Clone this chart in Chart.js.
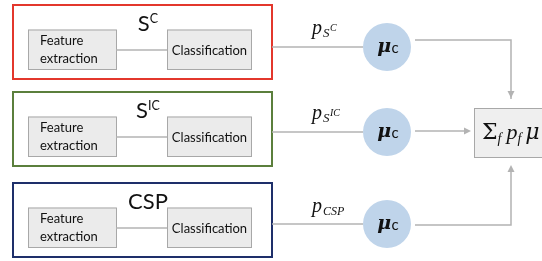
<!DOCTYPE html>
<html>
<head>
<meta charset="utf-8">
<script src="https://cdn.jsdelivr.net/npm/chart.js@4"></script>
<style>
  html, body { margin: 0; padding: 0; background: #ffffff; }
  #wrap { width: 542px; height: 261px; position: relative; }
</style>
</head>
<body>
<div id="wrap"><canvas id="diagram"></canvas></div>
<script>
// --- data: the texts of the diagram ---
const stageNames = ['S', 'S', 'CSP'];
const stageSups = ['C', 'IC', ''];
const moduleNames = [['Feature', 'extraction'], ['Classification']];
const probSubs = ['S', 'S', 'CSP'];
const probSups = ['C', 'IC', ''];
const nodeSymbol = 'μ';
const nodeSub = 'c';
const fusionParts = ['Σ', 'f', 'p', 'f', 'μ'];

// --- layout (diagram units = pixels of the 542x261 picture) ---
const frameX = [13, 272];
const frameTop = [5, 92, 183];
const frameH = 74;
const frameColors = ['#e3372c', '#5b7f3c', '#1e2f6a'];
const featBox = [28, 116];
const clsBox = [167, 251];
const nodeX = 387;
const nodeY = [47, 132, 224];
const nodeR = 24;
const outY = [40, 131, 225];
const fusion = { x0: 474, x1: 548, y0: 108, y1: 157 };
const busX = 511;
const lineGrey = '#b3b3b3';

const SANS = 'Lato, "Open Sans", sans-serif';
const SERIF = '"Liberation Serif", "DejaVu Serif", serif';

// connector polylines, as line datasets through the scales
const connectorSets = [];
frameTop.forEach((top, i) => {
  const ly = top + 45;
  connectorSets.push([{x: featBox[1], y: ly}, {x: clsBox[0], y: ly}]);
  connectorSets.push([{x: frameX[1], y: nodeY[i]}, {x: nodeX - nodeR, y: nodeY[i]}]);
});
connectorSets.push([{x: nodeX + nodeR + 4, y: outY[0]}, {x: busX, y: outY[0]}, {x: busX, y: fusion.y0 - 9}]);
connectorSets.push([{x: nodeX + nodeR + 4, y: outY[1]}, {x: fusion.x0 - 8, y: outY[1]}]);
connectorSets.push([{x: nodeX + nodeR + 4, y: outY[2]}, {x: busX, y: outY[2]}, {x: busX, y: fusion.y1 + 13}]);

function richText(ctx, parts, x, y, align) {
  let w = 0;
  parts.forEach(p => { ctx.font = p.font; w += ctx.measureText(p.t).width + (p.gap || 0); });
  let cx = align === 'center' ? x - w / 2 : x;
  ctx.textAlign = 'left';
  ctx.textBaseline = 'alphabetic';
  parts.forEach(p => {
    ctx.font = p.font;
    ctx.fillText(p.t, cx, y + (p.dy || 0));
    cx += ctx.measureText(p.t).width + (p.gap || 0);
  });
}

function arrowHead(ctx, x, y, dir) {
  // dir: 'down' | 'up' | 'right'
  ctx.beginPath();
  if (dir === 'down') { ctx.moveTo(x, y); ctx.lineTo(x - 3.5, y - 7); ctx.lineTo(x + 3.5, y - 7); }
  if (dir === 'up') { ctx.moveTo(x, y); ctx.lineTo(x - 3.5, y + 7); ctx.lineTo(x + 3.5, y + 7); }
  if (dir === 'right') { ctx.moveTo(x, y); ctx.lineTo(x - 7, y - 3.5); ctx.lineTo(x - 7, y + 3.5); }
  ctx.closePath();
  ctx.fill();
}

const diagramPlugin = {
  id: 'diagram',
  beforeDatasetsDraw(chart) {
    const ctx = chart.ctx;
    const sx = v => chart.scales.x.getPixelForValue(v);
    const sy = v => chart.scales.y.getPixelForValue(v);
    ctx.save();
    frameTop.forEach((top, i) => {
      ctx.lineWidth = 2;
      ctx.strokeStyle = frameColors[i];
      ctx.strokeRect(sx(frameX[0]), sy(top), sx(frameX[1]) - sx(frameX[0]), sy(top + frameH) - sy(top));
      [featBox, clsBox].forEach(b => {
        const y0 = top + 24.5, y1 = top + 64;
        ctx.fillStyle = '#ebebeb';
        ctx.fillRect(sx(b[0]), sy(y0), sx(b[1]) - sx(b[0]), sy(y1) - sy(y0));
        ctx.lineWidth = 1;
        ctx.strokeStyle = '#a8a8a8';
        ctx.strokeRect(sx(b[0]) + 0.5, sy(y0) + 0.5, sx(b[1]) - sx(b[0]), sy(y1) - sy(y0));
      });
    });
    // fusion box
    ctx.fillStyle = '#efefef';
    ctx.fillRect(sx(fusion.x0), sy(fusion.y0), sx(fusion.x1) - sx(fusion.x0), sy(fusion.y1) - sy(fusion.y0));
    ctx.lineWidth = 1;
    ctx.strokeStyle = '#a8a8a8';
    ctx.strokeRect(sx(fusion.x0) + 0.5, sy(fusion.y0) + 0.5, sx(fusion.x1) - sx(fusion.x0), sy(fusion.y1) - sy(fusion.y0));
    ctx.restore();
  },
  afterDatasetsDraw(chart) {
    const ctx = chart.ctx;
    const sx = v => chart.scales.x.getPixelForValue(v);
    const sy = v => chart.scales.y.getPixelForValue(v);
    ctx.save();
    ctx.fillStyle = '#111111';
    frameTop.forEach((top, i) => {
      // stage title
      richText(ctx, [
        {t: stageNames[i], font: '22px ' + SANS},
        {t: stageSups[i], font: '12.5px ' + SANS, dy: -8}
      ], sx(148), sy(top + 25.5), 'center');
      // module texts
      ctx.font = '13px ' + SANS;
      ctx.textBaseline = 'alphabetic';
      ctx.textAlign = 'left';
      ctx.fillText(moduleNames[0][0], sx(40), sy(top + 40));
      ctx.fillText(moduleNames[0][1], sx(40), sy(top + 57.5));
      ctx.textAlign = 'center';
      ctx.fillText(moduleNames[1][0], sx((clsBox[0] + clsBox[1]) / 2 + 0.5), sy(top + 49.5));
      // probability label
      const parts = [{t: 'p', font: 'italic 20px ' + SERIF, gap: 1}];
      if (probSups[i]) {
        parts.push({t: probSubs[i], font: 'italic 13px ' + SERIF, dy: 3, gap: 0.5});
        parts.push({t: probSups[i], font: 'italic 10px ' + SERIF, dy: -3});
      } else {
        parts.push({t: probSubs[i], font: 'italic 12px ' + SERIF, dy: 3});
      }
      richText(ctx, parts, sx(312), sy(nodeY[i] - 13 + (i === 2 ? 1 : 0)), 'left');
      // node label
      richText(ctx, [
        {t: nodeSymbol, font: 'italic bold 19px "DejaVu Serif", serif', gap: 0.5},
        {t: nodeSub, font: '15px ' + SANS, dy: 1}
      ], sx(nodeX + 1), sy(nodeY[i] + 5), 'center');
    });
    // fusion text
    richText(ctx, [
      {t: fusionParts[0], font: '22px "DejaVu Serif", serif'},
      {t: fusionParts[1], font: 'italic 14px ' + SERIF, dy: 4, gap: 5},
      {t: fusionParts[2], font: 'italic 22px ' + SERIF, gap: 0},
      {t: fusionParts[3], font: 'italic 14px ' + SERIF, dy: 4, gap: 4},
      {t: fusionParts[4], font: 'italic 22px "DejaVu Serif", serif'}
    ], sx(482), sy(139), 'left');
    // arrow heads
    ctx.fillStyle = lineGrey;
    arrowHead(ctx, sx(busX), sy(fusion.y0 - 10), 'down');
    arrowHead(ctx, sx(fusion.x0 - 3), sy(outY[1]), 'right');
    arrowHead(ctx, sx(busX), sy(fusion.y1 + 8), 'up');
    ctx.restore();
  }
};

const datasets = connectorSets.map(pts => ({
  type: 'line',
  data: pts,
  showLine: true,
  borderColor: lineGrey,
  borderWidth: 1.5,
  pointRadius: 0,
  fill: false,
  tension: 0,
  order: 2
}));
datasets.push({
  type: 'bubble',
  data: nodeY.map(y => ({x: nodeX, y: y, r: nodeR})),
  backgroundColor: '#bfd4ea',
  borderColor: '#bfd4ea',
  borderWidth: 0,
  order: 1
});

document.addEventListener('DOMContentLoaded', () => {
  const ctx = document.getElementById('diagram').getContext('2d');
  new Chart(ctx, {
    type: 'scatter',
    data: { datasets: datasets },
    options: {
      responsive: true,
      maintainAspectRatio: false,
      animation: false,
      events: [],
      layout: { padding: 0, autoPadding: false },
      scales: {
        x: { type: 'linear', min: 0, max: 542, display: false },
        y: { type: 'linear', min: 0, max: 261, reverse: true, display: false }
      },
      plugins: { legend: { display: false }, tooltip: { enabled: false } }
    },
    plugins: [diagramPlugin]
  });
});
</script>
</body>
</html>
